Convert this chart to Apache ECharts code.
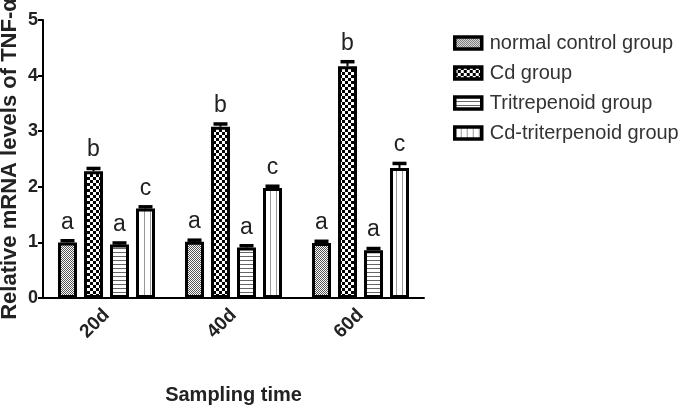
<!DOCTYPE html>
<html>
<head>
<meta charset="utf-8">
<script src="https://cdn.jsdelivr.net/npm/echarts@6/dist/echarts.min.js"></script>
<style>html,body{margin:0;padding:0;background:#fff;}#c{width:685px;height:410px;}</style>
</head>
<body>
<div id="c"></div>
<script>
const categories = ['20d', '40d', '60d'];
const seriesNames = ['normal control group', 'Cd group', 'Tritrepenoid group', 'Cd-triterpenoid group'];
const normalVals = [1.00, 1.01, 0.99];
const cdVals = [2.28, 3.08, 4.17];
const tritVals = [0.96, 0.91, 0.86];
const cdTritVals = [1.61, 1.98, 2.34];
const normalErr = [0.03, 0.03, 0.03];
const cdErr = [0.05, 0.05, 0.08];
const tritErr = [0.03, 0.03, 0.03];
const cdTritErr = [0.03, 0.03, 0.08];
const normalLetters = ['a', 'a', 'a'];
const cdLetters = ['b', 'b', 'b'];
const tritLetters = ['a', 'a', 'a'];
const cdTritLetters = ['c', 'c', 'c'];
const yTicks = [0, 1, 2, 3, 4, 5];

const allVals = [normalVals, cdVals, tritVals, cdTritVals];
const allErr = [normalErr, cdErr, tritErr, cdTritErr];
const allLetters = [normalLetters, cdLetters, tritLetters, cdTritLetters];

function makePattern(w, h, draw) {
  const cv = document.createElement('canvas');
  cv.width = w; cv.height = h;
  const ctx = cv.getContext('2d');
  ctx.fillStyle = '#fff';
  ctx.fillRect(0, 0, w, h);
  draw(ctx);
  return { image: cv, repeat: 'repeat' };
}
const patterns = [
  makePattern(2, 2, c => { c.fillStyle = '#555'; c.fillRect(0, 0, 1, 1); c.fillRect(1, 1, 1, 1); }),
  makePattern(6, 6, c => { c.fillStyle = '#000'; c.fillRect(0, 0, 3, 3); c.fillRect(3, 3, 3, 3); }),
  makePattern(4, 4, c => { c.fillStyle = '#666'; c.fillRect(0, 0, 4, 1); }),
  makePattern(6, 4, c => { c.fillStyle = '#999'; c.fillRect(0, 0, 1, 4); })
];

const BAR_W = 19, BAR_GAP = 7 / 19, STEP = BAR_W * (1 + BAR_GAP);
const FONT = '"Liberation Sans", Arial, sans-serif';

const barSeries = seriesNames.map((n, i) => ({
  name: n,
  type: 'bar',
  data: allVals[i],
  barWidth: BAR_W,
  barGap: (BAR_GAP * 100) + '%',
  itemStyle: { color: patterns[i], borderColor: '#000', borderWidth: 3 },
  emphasis: { disabled: true }
}));

const errData = [];
for (let s = 0; s < 4; s++) {
  for (let c = 0; c < categories.length; c++) {
    errData.push([c, allVals[s][c], allErr[s][c], s]);
  }
}

const errSeries = {
  type: 'custom',
  data: errData,
  z: 10,
  silent: true,
  renderItem: function (params, api) {
    const c = api.value(0), v = api.value(1), e = api.value(2), s = api.value(3);
    const base = api.coord([c, v]);
    const top = api.coord([c, v + e]);
    const x = base[0] + (s - 1.5) * STEP;
    const letter = allLetters[s][c];
    return {
      type: 'group',
      children: [
        { type: 'line', shape: { x1: x, y1: base[1], x2: x, y2: top[1] }, style: { stroke: '#000', lineWidth: 2 } },
        { type: 'line', shape: { x1: x - 7, y1: top[1], x2: x + 7, y2: top[1] }, style: { stroke: '#000', lineWidth: 3.5 } },
        { type: 'text', x: x, y: top[1] - 7, style: { text: letter, fill: '#222', font: '23px ' + FONT, textAlign: 'center', textVerticalAlign: 'bottom' } }
      ]
    };
  }
};

const chart = echarts.init(document.getElementById('c'));
chart.setOption({
  animation: false,
  backgroundColor: '#fff',
  grid: { left: 43, right: 261, top: 20, bottom: 112, containLabel: false, outerBoundsMode: 'none' },
  legend: {
    data: seriesNames,
    orient: 'vertical',
    left: 448,
    top: 28,
    icon: 'rect',
    itemWidth: 27,
    itemHeight: 12,
    itemGap: 10,
    itemStyle: { borderColor: '#000', borderWidth: 3.5 },
    textStyle: { fontFamily: FONT, fontSize: 20, color: '#333', padding: [0, 0, 0, 3] },
    selectedMode: false
  },
  xAxis: {
    type: 'category',
    data: categories,
    name: 'Sampling time',
    nameLocation: 'middle',
    nameGap: 87,
    nameMoveOverlap: false,
    nameTextStyle: { fontFamily: FONT, fontSize: 20, fontWeight: 'bold', color: '#222' },
    axisLine: { lineStyle: { color: '#000', width: 2 } },
    axisTick: { alignWithLabel: true, length: 6, lineStyle: { color: '#000', width: 2 } },
    axisLabel: { rotate: 45, margin: 14, fontFamily: FONT, fontSize: 19, fontWeight: 'bold', color: '#222' }
  },
  yAxis: {
    type: 'value',
    min: 0,
    max: 5,
    interval: 1,
    name: 'Relative mRNA levels of TNF-\u03b1',
    nameLocation: 'middle',
    nameGap: 22,
    nameMoveOverlap: false,
    nameTextStyle: { fontFamily: FONT, fontSize: 22, fontWeight: 'bold', color: '#222' },
    axisLine: { show: true, lineStyle: { color: '#000', width: 2 } },
    axisTick: { show: true, length: 5, lineStyle: { color: '#000', width: 2 } },
    splitLine: { show: false },
    axisLabel: {
      margin: 5,
      formatter: v => (yTicks.indexOf(v) >= 0 ? '{t|' + v + '}' : ''),
      rich: { t: { fontFamily: FONT, fontSize: 18, fontWeight: 'bold', color: '#222' } }
    }
  },
  series: barSeries.concat([errSeries])
});
</script>
</body>
</html>
